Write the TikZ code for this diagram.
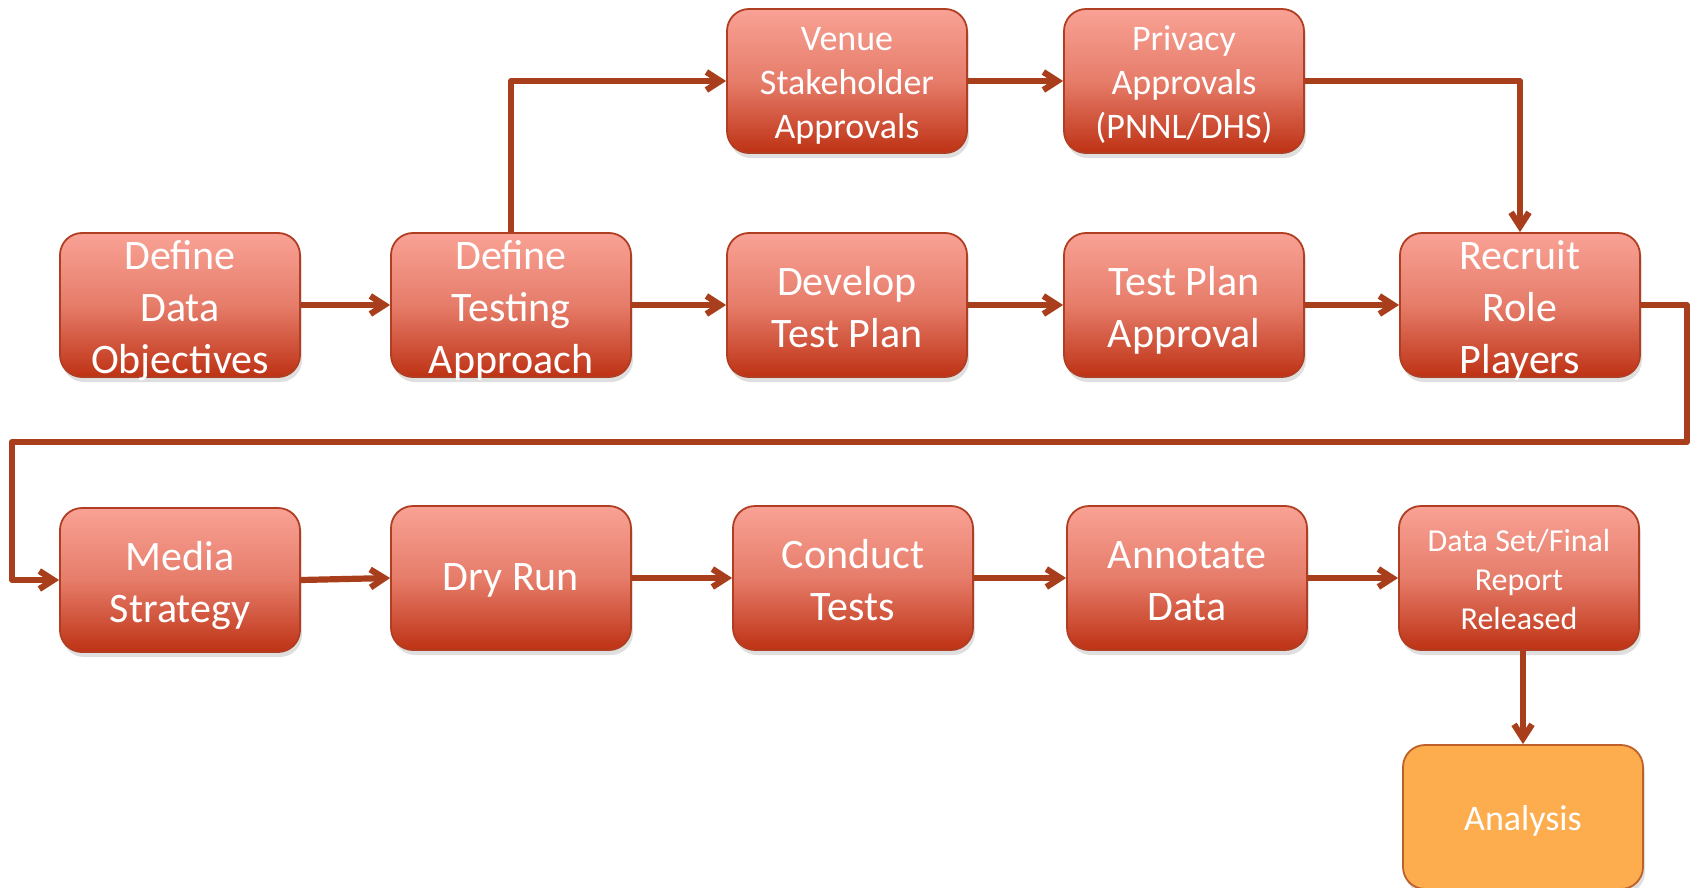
\documentclass[tikz,border=0pt]{standalone}
\usepackage{fontspec}
\setmainfont{Carlito}
\usetikzlibrary{arrows.meta,shadows}
\definecolor{topred}{RGB}{249,162,149}
\definecolor{midred}{RGB}{230,124,106}
\definecolor{botred}{RGB}{190,50,20}
\definecolor{edgered}{RGB}{176,62,34}
\definecolor{arrowred}{RGB}{168,62,27}
\definecolor{orangefill}{RGB}{253,173,78}
\definecolor{orangeedge}{RGB}{190,96,42}
\newcommand\tstr{\rule{0pt}{0.808\baselineskip}}
\newcommand\bstr{\rule[-0.192\baselineskip]{0pt}{0.192\baselineskip}}
\tikzset{
  box/.style={rectangle, rounded corners=11pt, draw=edgered, line width=0.9pt,
    top color=topred, bottom color=botred, middle color=midred,
    minimum width=120pt, minimum height=72pt, inner xsep=0pt, inner ysep=-5pt,
    align=center, text=white, font=\fontsize{21}{26}\selectfont,
    drop shadow={opacity=0.25, shadow xshift=1pt, shadow yshift=-2.5pt}},
  smallbox/.style={box, font=\fontsize{18}{22}\selectfont},
  tinybox/.style={box, font=\fontsize{16}{19.5}\selectfont},
  orangebox/.style={rectangle, rounded corners=11pt, draw=orangeedge, line width=0.9pt,
    fill=orangefill, minimum width=120pt, minimum height=72pt, inner sep=0pt,
    align=center, text=white, font=\fontsize{18}{22}\selectfont,
    drop shadow={opacity=0.25, shadow xshift=1pt, shadow yshift=-2.5pt}},
  conn/.style={draw=arrowred, line width=3.1pt, line join=round,
    -{Straight Barb[length=7pt,width=9pt,line width=3.1pt]}}
}
\begin{document}
\begin{tikzpicture}[x=0.5pt,y=-0.5pt]
\useasboundingbox (0,0) rectangle (1692,888);
% row 1
\node[box] (A) at (180,305) {\tstr Define\\Data\\Objectives\bstr};
\node[box] (B) at (511,305) {\tstr Define\\Testing\\Approach\bstr};
\node[box] (C) at (847,305) {\tstr Develop\\Test Plan\bstr};
\node[box] (D) at (1184,305) {\tstr Test Plan\\Approval\bstr};
\node[box] (E) at (1520,305) {\tstr Recruit\\Role\\Players\bstr};
% top row
\node[smallbox] (V) at (847,81) {\tstr Venue\\Stakeholder\\Approvals\bstr};
\node[smallbox] (P) at (1184,81) {\tstr Privacy\\Approvals\\(PNNL/DHS)\bstr};
% row 3
\node[box] (M) at (180,580) {\tstr Media\\Strategy\bstr};
\node[box] (R) at (511,578) {\rule{0pt}{15.7pt}Dry Run};
\node[box] (T) at (853,578) {\tstr Conduct\\Tests\bstr};
\node[box] (N) at (1187,578) {\tstr Annotate\\Data\bstr};
\node[tinybox] (S) at (1519,578) {\tstr Data Set/Final\\Report\\Released\bstr};
\node[orangebox] (Y) at (1523,817) {\tstr Analysis\bstr};
% connectors
\coordinate (c1) at (1687,442);
\coordinate (c2) at (12,442);
\draw[conn] (A.east) -- (B.west);
\draw[conn] (B.east) -- (C.west);
\draw[conn] (C.east) -- (D.west);
\draw[conn] (D.east) -- (E.west);
\draw[conn] (B.north) |- (V.west);
\draw[conn] (V.east) -- (P.west);
\draw[conn] (P.east) -| (E.north);
\draw[conn] (E.east) -| (c1) -- (c2) |- (M.west);
\draw[conn] (M.east) -- (R.west);
\draw[conn] (R.east) -- (T.west);
\draw[conn] (T.east) -- (N.west);
\draw[conn] (N.east) -- (S.west);
\draw[conn] (S.south -| Y.north) -- (Y.north);
\end{tikzpicture}
\end{document}
